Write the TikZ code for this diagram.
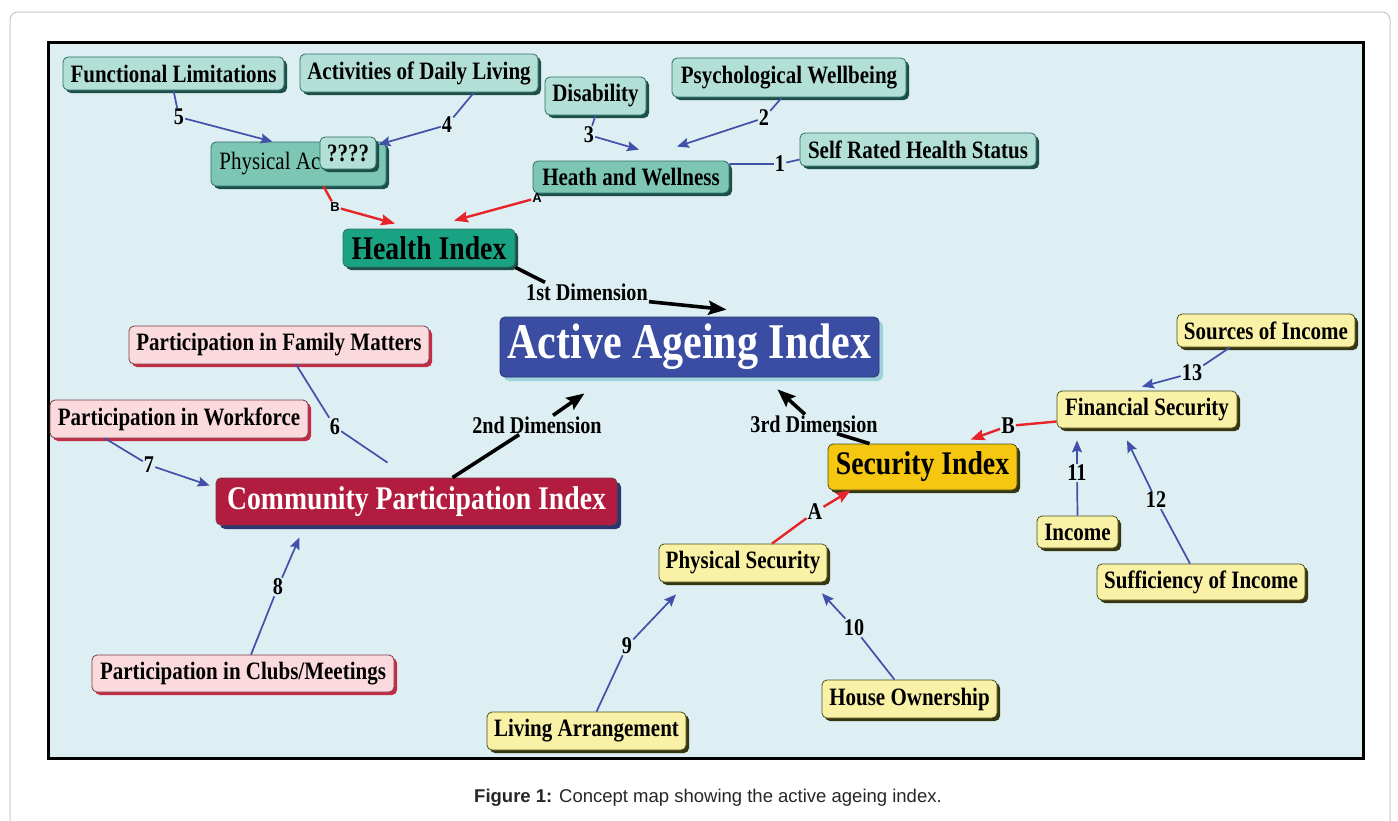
\documentclass[tikz,border=0pt]{standalone}
\usepackage{fontspec}
\setmainfont{Liberation Serif}[FakeStretch=0.84]
\newfontfamily\testosans{Liberation Sans}
\usetikzlibrary{arrows.meta,shadows}

\definecolor{sfondo}{HTML}{DDEFF3}
\definecolor{verdechiaro}{HTML}{B3E0D6}
\definecolor{verdemedio}{HTML}{7CC6B3}
\definecolor{verdeforte}{HTML}{1AA383}
\definecolor{verdebordo}{HTML}{2E6F66}
\definecolor{verdeombra}{HTML}{1C4F48}
\definecolor{rosachiaro}{HTML}{FBDADE}
\definecolor{rosabordo}{HTML}{7A3A45}
\definecolor{rosaombra}{HTML}{C62B45}
\definecolor{giallochiaro}{HTML}{F9F1A6}
\definecolor{giallobordo}{HTML}{4F4F1E}
\definecolor{gialloombra}{HTML}{35350F}
\definecolor{oro}{HTML}{F5C710}
\definecolor{bluaai}{HTML}{3A4DA3}
\definecolor{azzurroombra}{HTML}{9ED3DC}
\definecolor{cremisi}{HTML}{B21C3E}
\definecolor{navyombra}{HTML}{2E3570}
\definecolor{blulinea}{HTML}{4150A8}
\definecolor{rossolinea}{HTML}{E8242B}

\begin{document}
\begin{tikzpicture}[x=1pt, y=-1pt,
    every node/.style={inner sep=1pt, font=\bfseries\fontsize{25}{28}\selectfont},
    concetto/.style={rectangle, rounded corners=5pt, line width=0.8pt, align=center},
    verde/.style={concetto, draw=verdebordo, fill=verdechiaro,
        general shadow={shadow xshift=3pt, shadow yshift=-3pt, fill=verdeombra}},
    rosa/.style={concetto, draw=rosabordo, fill=rosachiaro,
        general shadow={shadow xshift=3pt, shadow yshift=-3pt, fill=rosaombra}},
    giallo/.style={concetto, draw=giallobordo, fill=giallochiaro,
        general shadow={shadow xshift=3pt, shadow yshift=-3pt, fill=gialloombra}},
    misura/.style 2 args={minimum width=#1pt, minimum height=#2pt},
    numero/.style={font=\bfseries\fontsize{24}{26}\selectfont},
    lettera/.style={font=\testosans\bfseries\fontsize{13}{14}\selectfont},
    lega/.style={draw=blulinea, line width=1.7pt},
    freccia/.style={lega, -{Stealth[length=12pt, width=10pt, inset=2pt]}},
    rossa/.style={draw=rossolinea, line width=2.4pt, -{Stealth[length=14pt, width=11pt, inset=2pt]}},
    dimensione/.style={line width=3.6pt},
    punta/.style={-{Stealth[length=18pt, width=14pt, inset=3pt]}}]

    \useasboundingbox (0,0) rectangle (1398,820);
    \clip (0,0) rectangle (1398,820);

    % Cornice e pannello
    \draw[black!22, line width=1pt, rounded corners=8pt] (10,12) rectangle (1390,860);
    \draw[line width=3pt, fill=sfondo] (48,42) rectangle (1363,758);

    % Salute
    \node (funz) at (173.5,73.5) [verde, misura={221}{33}] {Functional Limitations};
    \node (adl) at (419,73) [verde, misura={238}{38}] {Activities of Daily Living};
    \node (disab) at (595.5,96) [verde, misura={101}{38}] {Disability};
    \node (psico) at (789,77.5) [verde, misura={234}{39}] {Psychological Wellbeing};
    \node (autov) at (918,149.5) [verde, misura={236}{33}] {Self Rated Health Status};
    \node (benessere) at (631,177) [verde, fill=verdemedio, misura={196}{32}] {Heath and Wellness};
    \node (fisica) at (298.5,164) [verde, fill=verdemedio, misura={175}{44},
        font=\fontsize{25}{28}\selectfont] {Physical Activities};
    \node (qq) at (348,153) [verde, misura={56}{32}] {????};
    \node (salute) at (429,248) [verde, fill=verdeforte, misura={172}{38},
        font=\bfseries\fontsize{33}{36}\selectfont] {Health Index};

    % Indice centrale
    \node (aai) at (689.5,347) [concetto, draw=navyombra, fill=bluaai, text=white, misura={379}{60},
        general shadow={shadow xshift=4pt, shadow yshift=-4pt, fill=azzurroombra},
        font=\bfseries\fontsize{50}{54}\selectfont] {Active Ageing Index};

    % Partecipazione
    \node (fam) at (279,345) [rosa, misura={300}{38}] {Participation in Family Matters};
    \node (lavoro) at (179,419) [rosa, misura={258}{38}] {Participation in Workforce};
    \node (club) at (243,673.5) [rosa, misura={302}{37}] {Participation in Clubs/Meetings};
    \node (cpi) at (416.5,501.5) [concetto, draw=rosabordo, fill=cremisi, text=white, misura={401}{47},
        general shadow={shadow xshift=4pt, shadow yshift=-4pt, fill=navyombra},
        font=\bfseries\fontsize{33}{36}\selectfont] {Community Participation Index};

    % Sicurezza
    \node (sicur) at (922.5,467) [giallo, fill=oro, misura={189}{46},
        font=\bfseries\fontsize{33}{36}\selectfont] {Security Index};
    \node (fonti) at (1266,330.5) [giallo, misura={178}{33}] {Sources of Income};
    \node (finanz) at (1147,409.5) [giallo, misura={180}{37}] {Financial Security};
    \node (reddito) at (1077.5,532) [giallo, misura={81}{32}] {Income};
    \node (suff) at (1201,582) [giallo, misura={208}{36}] {Sufficiency of Income};
    \node (fisic) at (743,563) [giallo, misura={168}{38}] {Physical Security};
    \node (alloggio) at (586.5,731) [giallo, misura={199}{38}] {Living Arrangement};
    \node (casa) at (909.5,699) [giallo, misura={175}{38}] {House Ownership};

    % Etichette
    \node (n1) at (780,164) [numero] {1};
    \node (n2) at (764,118) [numero] {2};
    \node (n3) at (589,135) [numero] {3};
    \node (n4) at (447,125) [numero] {4};
    \node (n5) at (179,117) [numero] {5};
    \node (n6) at (335,427) [numero] {6};
    \node (n7) at (149,465) [numero] {7};
    \node (n8) at (278,587) [numero] {8};
    \node (n9) at (627,646) [numero] {9};
    \node (n10) at (854,628) [numero] {10};
    \node (n11) at (1077,473) [numero] {11};
    \node (n12) at (1156,500) [numero] {12};
    \node (n13) at (1192,373) [numero] {13};
    \node (hA) at (537,198) [lettera] {A};
    \node (hB) at (335,207) [lettera] {B};
    \node (sA) at (815,512) [numero] {A};
    \node (sB) at (1008,426) [numero] {B};
    \node (dim1) at (587,292) [numero] {1st Dimension};
    \node (dim2) at (537,425) [numero] {2nd Dimension};
    \node (dim3) at (814,424) [numero] {3rd Dimension};

    % Collegamenti salute
    \draw[freccia] (funz.south) -- (n5) -- ([xshift=-26pt]fisica.north);
    \draw[freccia] ([xshift=55pt]adl.south) -- (n4) -- ([xshift=80pt,yshift=-3pt]fisica.north);
    \draw[freccia] (disab.south) -- (n3) -- ([xshift=8pt,yshift=11pt]benessere.north);
    \draw[freccia] ([xshift=-7pt]psico.south) -- (n2) -- ([xshift=46pt,yshift=14pt]benessere.north);
    \draw[lega] ([yshift=13pt]benessere.east) -- (n1) -- ([yshift=-10pt]autov.west);
    \draw[rossa] ([xshift=25pt]fisica.south) -- (hB) -- ([xshift=-34pt,yshift=5pt]salute.north);
    \draw[rossa] (hA) -- ([xshift=25pt,yshift=8pt]salute.north);

    % Dimensioni
    \draw[dimensione] (salute.south east) -- ([xshift=20pt]dim1.north west);
    \draw[dimensione, punta] (dim1.south east) -- ([xshift=37pt,yshift=7pt]aai.north);
    \draw[dimensione] ([xshift=36pt]cpi.north) -- ([xshift=48pt]dim2.south west);
    \draw[dimensione, punta] ([xshift=16pt]dim2.north) -- ([xshift=-105pt,yshift=-16pt]aai.south);
    \draw[dimensione] ([xshift=-53pt]sicur.north) -- ([xshift=23pt]dim3.south);
    \draw[dimensione, punta] ([xshift=-9pt]dim3.north) -- ([xshift=88pt,yshift=-12pt]aai.south);

    % Collegamenti partecipazione
    \draw[lega] ([xshift=17pt]fam.south) -- (n6) -- ([xshift=-29pt,yshift=15pt]cpi.north);
    \draw[freccia] ([xshift=-74pt]lavoro.south) -- (n7) -- ([xshift=-6pt,yshift=16pt]cpi.west);
    \draw[freccia] ([xshift=8pt]club.north) -- (n8) -- ([xshift=-117pt,yshift=-12pt]cpi.south);

    % Collegamenti sicurezza
    \draw[rossa] ([yshift=-12pt]finanz.west) -- (sB) -- ([xshift=48pt,yshift=4pt]sicur.north);
    \draw[rossa] ([xshift=29pt]fisic.north) -- (sA) -- ([xshift=-72pt]sicur.south);
    \draw[freccia] ([xshift=-36pt]fonti.south) -- (n13) -- ([xshift=-5pt,yshift=4pt]finanz.north);
    \draw[freccia] (reddito.north) -- (n11) -- ([xshift=-70pt,yshift=-12pt]finanz.south);
    \draw[freccia] ([xshift=-11pt]suff.north) -- (n12) -- ([xshift=-20pt,yshift=-12pt]finanz.south);
    \draw[freccia] ([xshift=10pt]alloggio.north) -- (n9) -- ([xshift=-67pt,yshift=-12pt]fisic.south);
    \draw[freccia] ([xshift=-15pt]casa.north) -- (n10) -- ([xshift=79pt,yshift=-11pt]fisic.south);

    % Didascalia
    \node (didasc) at (708,798) [font=\testosans\fontsize{18.5}{22}\selectfont, text=black!85]
        {\textbf{Figure 1:} Concept map showing the active ageing index.};
\end{tikzpicture}
\end{document}
